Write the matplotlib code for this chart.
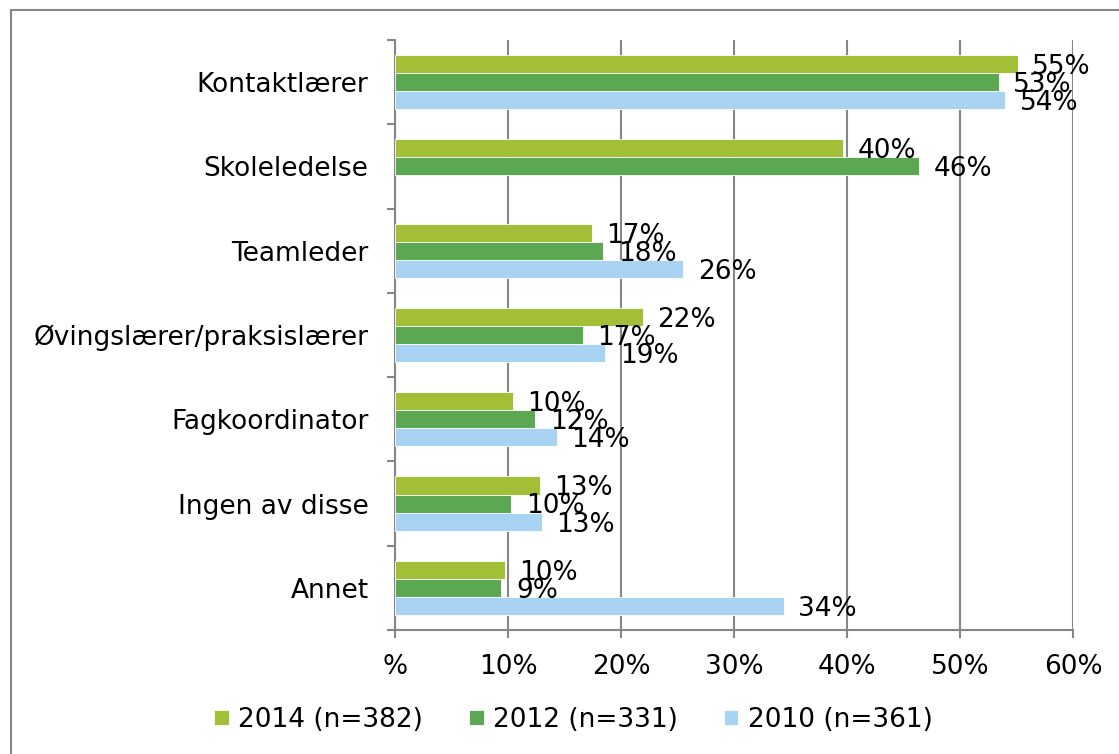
import numpy as np
import matplotlib
matplotlib.use("Agg")
import matplotlib.pyplot as plt
from matplotlib.patches import Rectangle

# kategorier og andeler (%)
categories = ["Kontaktlærer", "Skoleledelse", "Teamleder", "Øvingslærer/praksislærer",
              "Fagkoordinator", "Ingen av disse", "Annet"]
series_names = ["2014 (n=382)", "2012 (n=331)", "2010 (n=361)"]
v2014 = [55.1, 39.6, 17.4, 21.9, 10.4, 12.8, 9.7]
v2012 = [53.4, 46.4, 18.4, 16.6, 12.4, 10.3, 9.4]
v2010 = [54.0, np.nan, 25.5, 18.6, 14.3, 13.0, 34.4]
colors = ["#A2BF37", "#5CA752", "#A8D3F2"]
xtick_labels = ["%", "10%", "20%", "30%", "40%", "50%", "60%"]

plt.rcParams["font.family"] = ["DejaVu Sans"]
FS = 19
GRAY = "#868686"

fig = plt.figure(figsize=(11.19, 7.54), dpi=100)
ax = fig.add_axes([0.353, 0.1645, 0.606, 0.7825])

# ytre ramme
fig.patches.append(Rectangle((0.0095, -0.05), 1.2, 1.037, transform=fig.transFigure,
                             fill=False, edgecolor=GRAY, linewidth=1.5, zorder=0))

y = np.arange(len(categories))
h = 0.214
offsets = [-h, 0, h]
for vals, off, col, name in zip([v2014, v2012, v2010], offsets, colors, series_names):
    ax.barh(y + off, vals, height=h, color=col, edgecolor="white", linewidth=0.6,
            label=name, zorder=3)
    for yi, v in zip(y, vals):
        if np.isnan(v):
            continue
        ax.text(v + 1.3, yi + off + 0.035, f"{v:.0f}%", va="center", ha="left",
                fontsize=FS, zorder=4)

ax.set_ylim(len(categories) - 0.5, -0.5)
ax.set_xlim(0, 60)
ax.set_xticks(np.arange(0, 61, 10))
ax.set_xticklabels(xtick_labels)
ax.set_yticks(y)
ax.set_yticklabels(categories)
ax.set_yticks(np.arange(-0.5, len(categories), 1), minor=True)

ax.grid(axis="x", color=GRAY, linewidth=1.5, zorder=0)
for s in ["top", "right"]:
    ax.spines[s].set_visible(False)
for s in ["left", "bottom"]:
    ax.spines[s].set_color(GRAY)
    ax.spines[s].set_linewidth(1.5)

ax.tick_params(axis="y", which="major", length=0, pad=19, labelsize=FS)
ax.tick_params(axis="y", which="minor", length=6, width=1.5, color=GRAY)
ax.tick_params(axis="x", length=6, width=1.5, color=GRAY, pad=11, labelsize=FS)

ax.legend(loc="upper center", bbox_to_anchor=(0.263, -0.09), ncol=3, frameon=False,
          fontsize=FS, handlelength=0.55, handleheight=0.55, handletextpad=0.35,
          columnspacing=1.75)

fig.savefig("out.png", dpi=100)
